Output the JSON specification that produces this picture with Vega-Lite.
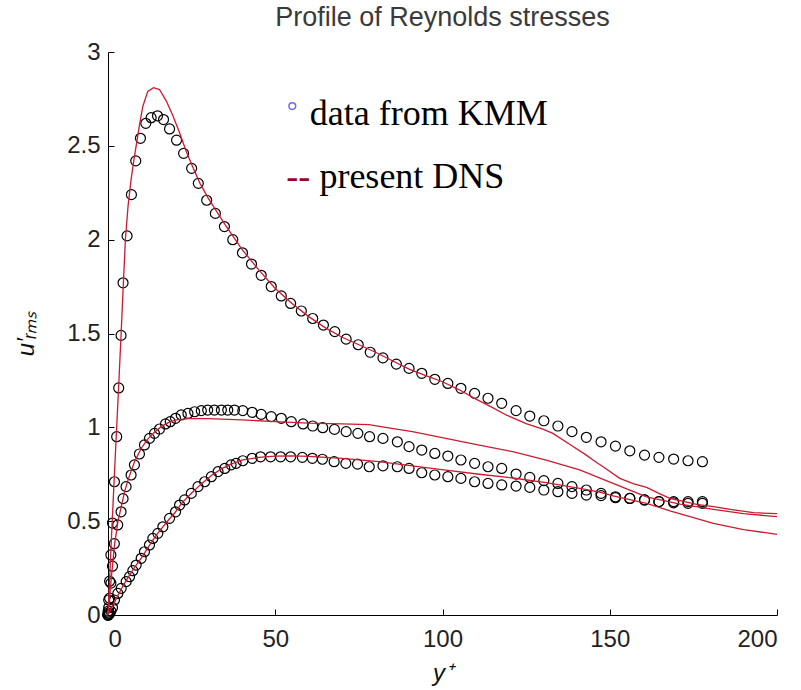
{
  "$schema": "https://vega.github.io/schema/vega-lite/v6.json",
  "width": 669,
  "height": 563,
  "autosize": "none",
  "padding": {"left": 108, "top": 52, "right": 24, "bottom": 75},
  "background": "white",
  "title": {"text": "Profile of Reynolds stresses", "font": "Liberation Sans", "fontSize": 27, "fontWeight": "normal", "color": "#3a3a3a", "anchor": "middle", "offset": 8},
  "config": {
    "view": {"stroke": null},
    "axis": {"grid": false, "domainColor": "black", "tickColor": "black", "tickSize": -6, "labelFont": "Liberation Sans", "labelFontSize": 24, "labelColor": "#222", "titleFont": "Liberation Sans", "titleFontWeight": "normal", "titleFontStyle": "italic", "titleFontSize": 24, "titleColor": "#111"}
  },
  "datasets": {
    "kmm": [
      {"c":"u","x":0,"y":0},{"c":"u","x":0.05,"y":0.02},{"c":"u","x":0.21,"y":0.08},{"c":"u","x":0.48,"y":0.18},{"c":"u","x":0.86,"y":0.32},{"c":"u","x":1.34,"y":0.49},{"c":"u","x":1.93,"y":0.71},{"c":"u","x":2.6,"y":0.95},{"c":"u","x":3.2,"y":1.21},{"c":"u","x":3.9,"y":1.49},{"c":"u","x":4.5,"y":1.77},{"c":"u","x":5.7,"y":2.02},{"c":"u","x":7.0,"y":2.24},{"c":"u","x":8.3,"y":2.42},{"c":"u","x":9.7,"y":2.54},{"c":"u","x":11.3,"y":2.62},{"c":"u","x":12.9,"y":2.65},{"c":"u","x":14.8,"y":2.66},{"c":"u","x":16.6,"y":2.64},{"c":"u","x":18.4,"y":2.59},{"c":"u","x":20.5,"y":2.53},{"c":"u","x":22.6,"y":2.46},{"c":"u","x":25.0,"y":2.38},{"c":"u","x":27.0,"y":2.30},{"c":"u","x":29.5,"y":2.21},{"c":"u","x":32.1,"y":2.14},{"c":"u","x":34.8,"y":2.07},{"c":"u","x":37.3,"y":2.00},{"c":"u","x":40.2,"y":1.93},{"c":"u","x":42.9,"y":1.87},{"c":"u","x":45.8,"y":1.81},{"c":"u","x":48.8,"y":1.75},{"c":"u","x":51.8,"y":1.70},{"c":"u","x":54.6,"y":1.66},{"c":"u","x":57.8,"y":1.62},{"c":"u","x":61.2,"y":1.58},{"c":"u","x":64.4,"y":1.545},{"c":"u","x":67.8,"y":1.51},{"c":"u","x":71.2,"y":1.47},{"c":"u","x":74.8,"y":1.44},{"c":"u","x":78.4,"y":1.40},{"c":"u","x":82.2,"y":1.37},{"c":"u","x":86.2,"y":1.337},{"c":"u","x":90.0,"y":1.314},{"c":"u","x":93.8,"y":1.288},{"c":"u","x":97.7,"y":1.256},{"c":"u","x":101.6,"y":1.234},{"c":"u","x":105.5,"y":1.208},{"c":"u","x":109.6,"y":1.181},{"c":"u","x":113.6,"y":1.155},{"c":"u","x":117.7,"y":1.128},{"c":"u","x":122.0,"y":1.089},{"c":"u","x":126.1,"y":1.06},{"c":"u","x":130.3,"y":1.035},{"c":"u","x":134.5,"y":1.007},{"c":"u","x":138.7,"y":0.977},{"c":"u","x":143.0,"y":0.947},{"c":"u","x":147.4,"y":0.923},{"c":"u","x":151.7,"y":0.90},{"c":"u","x":156.0,"y":0.875},{"c":"u","x":160.4,"y":0.852},{"c":"u","x":164.7,"y":0.84},{"c":"u","x":169.1,"y":0.831},{"c":"u","x":173.4,"y":0.822},{"c":"u","x":177.7,"y":0.817},
      {"c":"w","x":0,"y":0},{"c":"w","x":0.05,"y":0.01},{"c":"w","x":0.21,"y":0.04},{"c":"w","x":0.48,"y":0.09},{"c":"w","x":0.86,"y":0.17},{"c":"w","x":1.34,"y":0.26},{"c":"w","x":1.9,"y":0.38},{"c":"w","x":2.9,"y":0.48},{"c":"w","x":3.9,"y":0.55},{"c":"w","x":4.5,"y":0.62},{"c":"w","x":5.4,"y":0.684},{"c":"w","x":6.9,"y":0.746},{"c":"w","x":7.9,"y":0.80},{"c":"w","x":9.4,"y":0.858},{"c":"w","x":10.9,"y":0.906},{"c":"w","x":12.4,"y":0.941},{"c":"w","x":13.9,"y":0.968},{"c":"w","x":15.4,"y":0.991},{"c":"w","x":17.2,"y":1.018},{"c":"w","x":18.6,"y":1.03},{"c":"w","x":20.2,"y":1.048},{"c":"w","x":21.9,"y":1.066},{"c":"w","x":23.9,"y":1.074},{"c":"w","x":25.9,"y":1.083},{"c":"w","x":27.9,"y":1.089},{"c":"w","x":29.8,"y":1.092},{"c":"w","x":31.8,"y":1.092},{"c":"w","x":33.9,"y":1.092},{"c":"w","x":35.8,"y":1.092},{"c":"w","x":37.8,"y":1.092},{"c":"w","x":40.3,"y":1.089},{"c":"w","x":43.1,"y":1.08},{"c":"w","x":45.8,"y":1.069},{"c":"w","x":48.8,"y":1.057},{"c":"w","x":51.8,"y":1.048},{"c":"w","x":54.8,"y":1.03},{"c":"w","x":58.3,"y":1.018},{"c":"w","x":61.2,"y":1.007},{"c":"w","x":64.2,"y":0.998},{"c":"w","x":67.7,"y":0.989},{"c":"w","x":71.2,"y":0.977},{"c":"w","x":74.7,"y":0.968},{"c":"w","x":78.2,"y":0.95},{"c":"w","x":82.2,"y":0.941},{"c":"w","x":86.5,"y":0.923},{"c":"w","x":90.0,"y":0.897},{"c":"w","x":93.8,"y":0.879},{"c":"w","x":97.7,"y":0.861},{"c":"w","x":101.6,"y":0.847},{"c":"w","x":105.5,"y":0.826},{"c":"w","x":109.6,"y":0.808},{"c":"w","x":113.6,"y":0.79},{"c":"w","x":117.7,"y":0.781},{"c":"w","x":122.0,"y":0.751},{"c":"w","x":126.1,"y":0.733},{"c":"w","x":130.3,"y":0.716},{"c":"w","x":134.5,"y":0.701},{"c":"w","x":138.7,"y":0.684},{"c":"w","x":143.0,"y":0.666},{"c":"w","x":147.4,"y":0.648},{"c":"w","x":151.7,"y":0.63},{"c":"w","x":156.0,"y":0.621},{"c":"w","x":160.4,"y":0.613},{"c":"w","x":164.7,"y":0.604},{"c":"w","x":169.1,"y":0.604},{"c":"w","x":173.4,"y":0.604},{"c":"w","x":177.7,"y":0.604},
      {"c":"v","x":0,"y":0},{"c":"v","x":0.05,"y":0.0},{"c":"v","x":0.21,"y":0.002},{"c":"v","x":0.48,"y":0.008},{"c":"v","x":0.86,"y":0.02},{"c":"v","x":1.34,"y":0.04},{"c":"v","x":1.94,"y":0.08},{"c":"v","x":2.94,"y":0.115},{"c":"v","x":3.94,"y":0.142},{"c":"v","x":5.43,"y":0.178},{"c":"v","x":6.43,"y":0.204},{"c":"v","x":7.42,"y":0.236},{"c":"v","x":8.42,"y":0.266},{"c":"v","x":9.92,"y":0.302},{"c":"v","x":10.9,"y":0.337},{"c":"v","x":12.4,"y":0.373},{"c":"v","x":13.4,"y":0.408},{"c":"v","x":14.9,"y":0.435},{"c":"v","x":16.4,"y":0.47},{"c":"v","x":18.4,"y":0.515},{"c":"v","x":20.2,"y":0.55},{"c":"v","x":21.4,"y":0.586},{"c":"v","x":22.9,"y":0.613},{"c":"v","x":24.9,"y":0.648},{"c":"v","x":26.9,"y":0.684},{"c":"v","x":28.9,"y":0.71},{"c":"v","x":30.9,"y":0.737},{"c":"v","x":32.9,"y":0.764},{"c":"v","x":34.9,"y":0.781},{"c":"v","x":36.8,"y":0.80},{"c":"v","x":38.3,"y":0.808},{"c":"v","x":40.3,"y":0.822},{"c":"v","x":43.1,"y":0.835},{"c":"v","x":45.6,"y":0.843},{"c":"v","x":48.6,"y":0.843},{"c":"v","x":51.6,"y":0.843},{"c":"v","x":54.6,"y":0.843},{"c":"v","x":58.1,"y":0.84},{"c":"v","x":61.1,"y":0.835},{"c":"v","x":64.1,"y":0.83},{"c":"v","x":67.6,"y":0.817},{"c":"v","x":71.1,"y":0.808},{"c":"v","x":74.6,"y":0.804},{"c":"v","x":78.1,"y":0.79},{"c":"v","x":82.2,"y":0.795},{"c":"v","x":86.5,"y":0.79},{"c":"v","x":90.0,"y":0.781},{"c":"v","x":93.8,"y":0.758},{"c":"v","x":97.7,"y":0.746},{"c":"v","x":101.6,"y":0.737},{"c":"v","x":105.5,"y":0.728},{"c":"v","x":109.6,"y":0.71},{"c":"v","x":113.6,"y":0.701},{"c":"v","x":117.7,"y":0.693},{"c":"v","x":122.0,"y":0.687},{"c":"v","x":126.1,"y":0.68},{"c":"v","x":130.3,"y":0.666},{"c":"v","x":134.5,"y":0.657},{"c":"v","x":138.7,"y":0.648},{"c":"v","x":143.0,"y":0.639},{"c":"v","x":147.4,"y":0.636},{"c":"v","x":151.7,"y":0.625},{"c":"v","x":156.0,"y":0.621},{"c":"v","x":160.4,"y":0.613},{"c":"v","x":164.7,"y":0.604},{"c":"v","x":169.1,"y":0.598},{"c":"v","x":173.4,"y":0.595},{"c":"v","x":177.7,"y":0.595}
    ],
    "dns": [
      {"c":"u","x":0,"y":0},{"c":"u","x":1,"y":0.4},{"c":"u","x":2,"y":0.78},{"c":"u","x":3,"y":1.15},{"c":"u","x":3.9,"y":1.49},{"c":"u","x":4.5,"y":1.73},{"c":"u","x":5.2,"y":2.0},{"c":"u","x":6,"y":2.18},{"c":"u","x":6.9,"y":2.32},{"c":"u","x":7.7,"y":2.42},{"c":"u","x":8.6,"y":2.52},{"c":"u","x":9.5,"y":2.62},{"c":"u","x":10.4,"y":2.71},{"c":"u","x":11.9,"y":2.79},{"c":"u","x":13.6,"y":2.81},{"c":"u","x":15.4,"y":2.8},{"c":"u","x":17.4,"y":2.74},{"c":"u","x":19.4,"y":2.66},{"c":"u","x":21.4,"y":2.57},{"c":"u","x":23.4,"y":2.47},{"c":"u","x":25.5,"y":2.38},{"c":"u","x":27.5,"y":2.30},{"c":"u","x":30,"y":2.22},{"c":"u","x":35,"y":2.08},{"c":"u","x":40,"y":1.95},{"c":"u","x":45,"y":1.84},{"c":"u","x":50,"y":1.74},{"c":"u","x":55,"y":1.66},{"c":"u","x":60,"y":1.59},{"c":"u","x":65,"y":1.53},{"c":"u","x":70,"y":1.48},{"c":"u","x":75,"y":1.44},{"c":"u","x":80,"y":1.40},{"c":"u","x":85,"y":1.355},{"c":"u","x":90,"y":1.31},{"c":"u","x":95,"y":1.275},{"c":"u","x":100,"y":1.243},{"c":"u","x":105,"y":1.2},{"c":"u","x":110,"y":1.15},{"c":"u","x":115,"y":1.105},{"c":"u","x":119,"y":1.066},{"c":"u","x":125,"y":1.02},{"c":"u","x":130,"y":0.99},{"c":"u","x":133,"y":0.968},{"c":"u","x":138,"y":0.91},{"c":"u","x":143,"y":0.852},{"c":"u","x":145,"y":0.826},{"c":"u","x":148,"y":0.79},{"c":"u","x":153,"y":0.728},{"c":"u","x":157,"y":0.70},{"c":"u","x":161,"y":0.68},{"c":"u","x":165,"y":0.645},{"c":"u","x":168,"y":0.622},{"c":"u","x":172,"y":0.605},{"c":"u","x":176,"y":0.59},{"c":"u","x":181,"y":0.577},{"c":"u","x":187,"y":0.56},{"c":"u","x":193,"y":0.545},{"c":"u","x":200,"y":0.54},
      {"c":"w","x":0,"y":0},{"c":"w","x":1,"y":0.2},{"c":"w","x":2,"y":0.38},{"c":"w","x":3,"y":0.5},{"c":"w","x":4,"y":0.58},{"c":"w","x":5,"y":0.66},{"c":"w","x":6,"y":0.72},{"c":"w","x":8,"y":0.82},{"c":"w","x":10,"y":0.89},{"c":"w","x":12,"y":0.94},{"c":"w","x":14,"y":0.975},{"c":"w","x":16,"y":1.005},{"c":"w","x":18,"y":1.025},{"c":"w","x":20,"y":1.038},{"c":"w","x":24,"y":1.046},{"c":"w","x":30,"y":1.046},{"c":"w","x":40,"y":1.04},{"c":"w","x":50,"y":1.03},{"c":"w","x":60,"y":1.022},{"c":"w","x":70,"y":1.018},{"c":"w","x":78,"y":1.014},{"c":"w","x":82,"y":1.003},{"c":"w","x":91,"y":0.977},{"c":"w","x":101,"y":0.941},{"c":"w","x":111,"y":0.905},{"c":"w","x":121,"y":0.87},{"c":"w","x":131,"y":0.825},{"c":"w","x":141,"y":0.773},{"c":"w","x":151,"y":0.701},{"c":"w","x":161,"y":0.63},{"c":"w","x":171,"y":0.591},{"c":"w","x":181,"y":0.563},{"c":"w","x":190,"y":0.54},{"c":"w","x":200,"y":0.524},
      {"c":"v","x":0,"y":0},{"c":"v","x":2,"y":0.07},{"c":"v","x":4,"y":0.14},{"c":"v","x":6,"y":0.2},{"c":"v","x":8,"y":0.255},{"c":"v","x":10,"y":0.305},{"c":"v","x":12,"y":0.36},{"c":"v","x":14,"y":0.415},{"c":"v","x":16,"y":0.46},{"c":"v","x":18,"y":0.505},{"c":"v","x":20,"y":0.545},{"c":"v","x":22,"y":0.595},{"c":"v","x":25,"y":0.65},{"c":"v","x":28,"y":0.7},{"c":"v","x":31,"y":0.745},{"c":"v","x":34,"y":0.78},{"c":"v","x":37,"y":0.805},{"c":"v","x":40,"y":0.825},{"c":"v","x":45,"y":0.84},{"c":"v","x":50,"y":0.847},{"c":"v","x":55,"y":0.848},{"c":"v","x":60,"y":0.845},{"c":"v","x":70,"y":0.835},{"c":"v","x":81,"y":0.817},{"c":"v","x":91,"y":0.795},{"c":"v","x":101,"y":0.772},{"c":"v","x":111,"y":0.75},{"c":"v","x":121,"y":0.73},{"c":"v","x":131,"y":0.705},{"c":"v","x":141,"y":0.675},{"c":"v","x":147,"y":0.655},{"c":"v","x":151,"y":0.635},{"c":"v","x":161,"y":0.595},{"c":"v","x":168,"y":0.555},{"c":"v","x":181,"y":0.488},{"c":"v","x":190,"y":0.455},{"c":"v","x":200,"y":0.43}
    ]
  },
  "encoding": {
    "x": {"type": "quantitative", "scale": {"domain": [0, 200], "nice": false}, "axis": {"title": "y⁺", "format": "d", "values": [0, 50, 100, 150, 200], "labelPadding": 18, "titlePadding": 10}},
    "y": {"type": "quantitative", "scale": {"domain": [0, 3], "nice": false}, "axis": {"title": "u′ᵣₘₛ", "format": ".1~f", "values": [0, 0.5, 1, 1.5, 2, 2.5, 3], "labelPadding": 14, "titlePadding": 28}}
  },
  "layer": [
    {
      "data": {"name": "kmm"},
      "mark": {"type": "point", "shape": "circle", "filled": false, "stroke": "black", "strokeWidth": 1.2, "size": 100, "opacity": 1},
      "encoding": {"x": {"field": "x", "type": "quantitative"}, "y": {"field": "y", "type": "quantitative"}}
    },
    {
      "data": {"name": "dns"},
      "mark": {"type": "line", "stroke": "#cc1a30", "strokeWidth": 1.3},
      "encoding": {"x": {"field": "x", "type": "quantitative"}, "y": {"field": "y", "type": "quantitative"}, "detail": {"field": "c"}}
    },
    {
      "data": {"values": [{"k": 1}]},
      "mark": {"type": "point", "shape": "circle", "filled": false, "stroke": "#2b2bff", "strokeWidth": 1.5, "size": 45},
      "encoding": {"x": {"datum": 55.1}, "y": {"datum": 2.712}}
    },
    {
      "data": {"values": [{"t": "data from KMM"}]},
      "mark": {"type": "text", "font": "Liberation Serif", "fontSize": 36, "align": "left", "baseline": "alphabetic", "color": "black"},
      "encoding": {"x": {"datum": 60.3}, "y": {"datum": 2.61}, "text": {"field": "t"}}
    },
    {
      "data": {"values": [{"t": "--"}]},
      "mark": {"type": "text", "font": "Liberation Serif", "fontSize": 36, "align": "left", "baseline": "alphabetic", "color": "#a0002a"},
      "encoding": {"x": {"datum": 53.3}, "y": {"datum": 2.273}, "text": {"field": "t"}}
    },
    {
      "data": {"values": [{"t": "present DNS"}]},
      "mark": {"type": "text", "font": "Liberation Serif", "fontSize": 36, "align": "left", "baseline": "alphabetic", "color": "black"},
      "encoding": {"x": {"datum": 63.2}, "y": {"datum": 2.273}, "text": {"field": "t"}}
    }
  ]
}
